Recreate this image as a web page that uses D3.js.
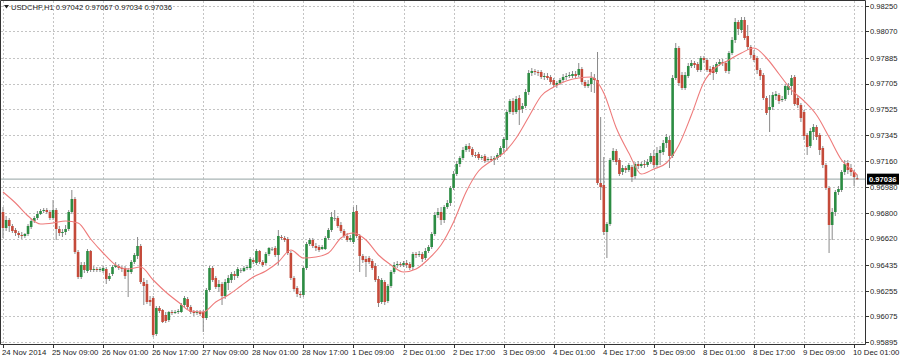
<!DOCTYPE html>
<html><head><meta charset="utf-8">
<script src="https://cdn.jsdelivr.net/npm/d3@7"></script>
<style>html,body{margin:0;padding:0;background:#fff;overflow:hidden}svg{display:block}text{font-family:"Liberation Sans",Arial,sans-serif}</style>
</head><body><svg id="c" width="900" height="359"></svg>
<script>
const symbol = "USDCHF,H1";
const timeLabelIdx = [0,16,32,48,64,80,96,112,128,144,160,176,192,208,224,240,256,272];
const timeLabels = ["24 Nov 2014","25 Nov 09:00","26 Nov 01:00","26 Nov 17:00","27 Nov 09:00","28 Nov 01:00","28 Nov 17:00","1 Dec 09:00","2 Dec 01:00","2 Dec 17:00","3 Dec 09:00","4 Dec 01:00","4 Dec 17:00","5 Dec 09:00","8 Dec 01:00","8 Dec 17:00","9 Dec 09:00","10 Dec 01:00"];
const priceTicks = [0.98250,0.98070,0.97885,0.97705,0.97525,0.97345,0.97160,0.96980,0.96800,0.96620,0.96435,0.96255,0.96075,0.95895];
const currentPrice = 0.97036;

const opens = [
.96806,.96694,.96750,.96708,.96680,.96659,.96645,.96638,.96652,.96701,.96743,.96764,.96792,.96813,.96820,.96806,.96764,.96820,.96687,.96659,
.96666,.96687,.96806,.96897,.96526,.96351,.96435,.96393,.96533,.96400,.96407,.96400,.96393,.96407,.96337,.96372,.96421,.96428,.96414,.96414,
.96386,.96386,.96456,.96498,.96568,.96316,.96302,.96190,.96204,.95952,.96134,.96120,.96085,.96050,.96106,.96099,.96106,.96106,.96155,.96197,
.96141,.96106,.96099,.96106,.96106,.96064,.96260,.96414,.96344,.96281,.96302,.96218,.96309,.96330,.96372,.96358,.96400,.96393,.96414,.96414,
.96470,.96449,.96533,.96456,.96449,.96512,.96547,.96554,.96505,.96631,.96624,.96617,.96519,.96344,.96274,.96232,.96225,.96414,.96582,.96610,
.96568,.96561,.96547,.96547,.96624,.96680,.96764,.96764,.96715,.96673,.96638,.96610,.96596,.96813,.96638,.96498,.96477,.96484,.96463,.96428,
.96337,.96176,.96316,.96183,.96288,.96386,.96435,.96442,.96435,.96449,.96442,.96421,.96512,.96505,.96512,.96484,.96533,.96561,.96652,.96785,
.96806,.96750,.96841,.96869,.96974,.97072,.97142,.97184,.97240,.97268,.97247,.97205,.97212,.97184,.97198,.97170,.97177,.97170,.97184,.97205,
.97254,.97310,.97506,.97583,.97506,.97604,.97527,.97548,.97646,.97779,.97793,.97786,.97786,.97751,.97758,.97751,.97730,.97695,.97709,.97730,
.97751,.97758,.97758,.97772,.97765,.97807,.97716,.97688,.97702,.97744,.97730,.97009,.96995,.96666,.96722,.97170,.97233,.97170,.97086,.97114,
.97100,.97121,.97058,.97142,.97128,.97142,.97135,.97156,.97198,.97135,.97219,.97226,.97289,.97310,.97198,.97744,.97954,.97765,.97674,.97758,
.97828,.97849,.97842,.97800,.97884,.97870,.97807,.97821,.97786,.97842,.97856,.97849,.97793,.97919,.98010,.98136,.98080,.98150,.98038,.97961,
.97905,.97884,.97800,.97765,.97604,.97520,.97541,.97618,.97625,.97590,.97597,.97660,.97688,.97751,.97604,.97555,.97506,.97345,.97268,.97366,
.97401,.97345,.97254,.97135,.96974,.96715,.96806,.96946,.96960,.97086,.97149,.97114,.97086,.97042];

const highs = [
.96841,.96778,.96764,.96722,.96694,.96673,.96666,.96659,.96722,.96757,.96778,.96813,.96827,.96834,.96834,.96820,.96890,.96834,.96708,.96687,
.96715,.96820,.96960,.96911,.96540,.96456,.96456,.96547,.96540,.96428,.96421,.96421,.96428,.96421,.96379,.96435,.96456,.96442,.96428,.96428,
.96414,.96470,.96519,.96631,.96582,.96344,.96330,.96218,.96218,.96148,.96148,.96127,.96106,.96113,.96120,.96120,.96127,.96169,.96218,.96211,
.96155,.96120,.96120,.96120,.96120,.96274,.96428,.96428,.96358,.96330,.96316,.96337,.96365,.96386,.96393,.96421,.96414,.96428,.96435,.96491,
.96484,.96547,.96540,.96470,.96526,.96561,.96561,.96568,.96680,.96645,.96638,.96631,.96533,.96358,.96288,.96253,.96428,.96596,.96624,.96624,
.96589,.96575,.96575,.96638,.96694,.96806,.96820,.96778,.96736,.96687,.96659,.96645,.96841,.96855,.96652,.96512,.96498,.96498,.96477,.96449,
.96358,.96344,.96330,.96302,.96400,.96456,.96463,.96456,.96463,.96470,.96456,.96526,.96526,.96533,.96526,.96554,.96575,.96666,.96806,.96834,
.96841,.96855,.96890,.96988,.97093,.97163,.97198,.97261,.97282,.97289,.97261,.97226,.97226,.97205,.97212,.97191,.97198,.97198,.97219,.97268,
.97331,.97520,.97597,.97604,.97618,.97625,.97569,.97667,.97800,.97814,.97807,.97800,.97800,.97779,.97779,.97765,.97744,.97723,.97744,.97772,
.97779,.97786,.97793,.97793,.97849,.97821,.97730,.97730,.97786,.97772,.97926,.97471,.97191,.96736,.97184,.97254,.97247,.97184,.97135,.97128,
.97149,.97135,.97156,.97163,.97156,.97170,.97177,.97219,.97240,.97261,.97268,.97310,.97352,.97338,.97765,.97989,.97968,.97786,.97786,.97849,
.97870,.97863,.97856,.97898,.97898,.97884,.97828,.97835,.97856,.97877,.97877,.97863,.97933,.98031,.98164,.98150,.98171,.98171,.98115,.97975,
.97940,.97898,.97814,.97779,.97618,.97625,.97646,.97653,.97639,.97618,.97702,.97709,.97765,.97765,.97618,.97569,.97520,.97359,.97394,.97422,
.97415,.97359,.97268,.97149,.96988,.96834,.96960,.96988,.97100,.97170,.97170,.97142,.97100,.97067];

const lows = [
.96624,.96673,.96666,.96659,.96638,.96624,.96617,.96624,.96638,.96687,.96729,.96750,.96785,.96799,.96792,.96750,.96750,.96610,.96638,.96631,
.96645,.96673,.96792,.96512,.96337,.96337,.96379,.96379,.96386,.96386,.96386,.96386,.96379,.96302,.96323,.96358,.96414,.96400,.96386,.96337,
.96211,.96372,.96442,.96477,.96302,.96155,.96162,.96148,.95931,.95938,.96099,.96029,.96029,.96036,.96085,.96092,.96092,.96099,.96141,.96127,
.96092,.96078,.96085,.96078,.95966,.96050,.96246,.96316,.96267,.96246,.96155,.96197,.96260,.96309,.96330,.96344,.96379,.96386,.96400,.96400,
.96442,.96435,.96442,.96421,.96435,.96498,.96533,.96491,.96435,.96610,.96596,.96505,.96330,.96253,.96211,.96204,.96211,.96400,.96568,.96554,
.96533,.96526,.96540,.96540,.96610,.96666,.96743,.96694,.96659,.96624,.96596,.96596,.96582,.96624,.96386,.96449,.96351,.96442,.96400,.96316,
.96141,.96162,.96155,.96169,.96274,.96372,.96414,.96421,.96421,.96414,.96400,.96400,.96484,.96491,.96456,.96470,.96519,.96547,.96638,.96764,
.96715,.96729,.96827,.96848,.96960,.97058,.97121,.97170,.97226,.97226,.97191,.97184,.97170,.97170,.97149,.97156,.97156,.97135,.97170,.97191,
.97226,.97233,.97492,.97485,.97492,.97415,.97499,.97534,.97625,.97758,.97765,.97758,.97737,.97730,.97730,.97702,.97681,.97674,.97695,.97716,
.97730,.97744,.97744,.97744,.97751,.97702,.97674,.97674,.97646,.97639,.96995,.96890,.96645,.96484,.96708,.97156,.97135,.97058,.97065,.97079,
.97086,.97016,.97037,.97107,.97114,.97114,.97121,.97142,.97114,.97121,.97135,.97205,.97254,.97114,.97184,.97730,.97688,.97660,.97660,.97744,
.97814,.97814,.97786,.97786,.97849,.97786,.97765,.97730,.97772,.97828,.97828,.97779,.97772,.97905,.97989,.98045,.98059,.98010,.97940,.97884,
.97856,.97772,.97730,.97590,.97485,.97366,.97520,.97590,.97562,.97576,.97583,.97625,.97625,.97548,.97534,.97436,.97310,.97205,.97254,.97310,
.97310,.97205,.97114,.96960,.96519,.96610,.96778,.96925,.96946,.97065,.97072,.97058,.96988,.97034];

const closes = [
.96694,.96750,.96708,.96673,.96659,.96645,.96638,.96652,.96708,.96743,.96764,.96792,.96813,.96820,.96806,.96764,.96820,.96687,.96659,.96666,
.96687,.96806,.96897,.96526,.96351,.96435,.96400,.96533,.96400,.96407,.96400,.96407,.96414,.96337,.96358,.96421,.96435,.96414,.96407,.96358,
.96400,.96456,.96505,.96568,.96316,.96288,.96176,.96176,.95945,.96134,.96113,.96036,.96043,.96106,.96099,.96106,.96113,.96155,.96204,.96141,
.96106,.96099,.96106,.96092,.96064,.96260,.96414,.96330,.96281,.96302,.96218,.96316,.96344,.96372,.96358,.96407,.96400,.96414,.96421,.96477,
.96456,.96533,.96456,.96435,.96512,.96554,.96547,.96505,.96638,.96624,.96610,.96519,.96344,.96267,.96232,.96225,.96414,.96582,.96610,.96568,
.96554,.96540,.96561,.96624,.96680,.96771,.96764,.96708,.96673,.96638,.96610,.96624,.96806,.96638,.96498,.96470,.96456,.96456,.96414,.96330,
.96169,.96330,.96176,.96288,.96386,.96435,.96442,.96435,.96449,.96435,.96414,.96512,.96505,.96512,.96477,.96533,.96561,.96652,.96785,.96806,
.96750,.96841,.96869,.96974,.97072,.97142,.97184,.97240,.97268,.97247,.97205,.97198,.97184,.97191,.97163,.97177,.97170,.97184,.97205,.97254,
.97317,.97506,.97583,.97506,.97597,.97520,.97548,.97646,.97779,.97793,.97786,.97779,.97751,.97758,.97744,.97716,.97695,.97709,.97730,.97751,
.97758,.97765,.97772,.97758,.97807,.97716,.97688,.97702,.97744,.97730,.97009,.96981,.96666,.96722,.97170,.97233,.97156,.97072,.97114,.97100,
.97135,.97051,.97142,.97128,.97142,.97135,.97156,.97198,.97135,.97219,.97240,.97289,.97331,.97198,.97744,.97954,.97709,.97674,.97765,.97828,
.97849,.97835,.97800,.97884,.97870,.97800,.97786,.97779,.97842,.97856,.97849,.97793,.97919,.98010,.98136,.98087,.98150,.98024,.97961,.97905,
.97870,.97800,.97758,.97604,.97499,.97541,.97625,.97632,.97583,.97597,.97688,.97688,.97744,.97562,.97555,.97464,.97338,.97261,.97373,.97401,
.97331,.97240,.97135,.96974,.96715,.96806,.96946,.96967,.97086,.97142,.97100,.97086,.97051,.97036];

const maIdx = [0,4,8,12,16,20,24,28,32,36,40,44,48,52,56,60,64,68,72,76,80,84,88,92,96,100,104,108,112,116,120,124,128,132,136,140,144,148,152,156,160,164,168,172,176,180,184,188,192,196,200,204,208,212,216,220,224,228,232,236,240,244,248,252,256,260,264,268,272,273];
const maVals = [.96946,.96869,.96778,.96722,.96729,.96743,.96729,.96617,.96519,.96435,.96407,.96421,.96330,.96246,.96176,.96113,.96106,.96176,.96225,.96288,
.96351,.96393,.96456,.96540,.96484,.96491,.96519,.96624,.96659,.96610,.96505,.96435,.96386,.96407,.96477,.96575,.96736,.96946,.97093,.97163,
.97219,.97324,.97471,.97618,.97681,.97723,.97744,.97751,.97639,.97394,.97219,.97072,.97107,.97149,.97275,.97485,.97716,.97821,.97870,.97919,
.97954,.97884,.97772,.97660,.97583,.97485,.97331,.97170,.97086,.97065];

const svg = d3.select("#c");
const plotR = 865, plotB = 344;
const x = d3.scaleLinear().domain([0, 272]).range([3, 854.1]);
const y = d3.scaleLinear().domain([0.95889, 0.98290]).range([343, 0]);
const n = closes.length;
const bars = d3.range(n).map(i => ({i, o: opens[i], h: highs[i], l: lows[i], c: closes[i]}));

// grid
const grid = svg.append("g").attr("stroke", "#c4c4c4").attr("stroke-dasharray", "2,2").attr("stroke-width", 1);
grid.selectAll("line.h").data(priceTicks).join("line").attr("class","h")
  .attr("x1", 1).attr("x2", plotR).attr("y1", d => Math.round(y(d)) + 0.5).attr("y2", d => Math.round(y(d)) + 0.5);
grid.selectAll("line.v").data(timeLabelIdx).join("line").attr("class","v")
  .attr("x1", d => Math.round(x(d)) + 0.5).attr("x2", d => Math.round(x(d)) + 0.5).attr("y1", 1).attr("y2", plotB);

// current price line
svg.append("line").attr("x1", 1).attr("x2", plotR).attr("y1", y(currentPrice)).attr("y2", y(currentPrice))
  .attr("stroke", "#a9b5b5").attr("stroke-width", 1.3);

// candles
const cg = svg.append("g");
cg.selectAll("line.w").data(bars).join("line").attr("class","w")
  .attr("x1", d => x(d.i)).attr("x2", d => x(d.i)).attr("y1", d => y(d.h)).attr("y2", d => y(d.l))
  .attr("stroke", "#8a8a8a").attr("stroke-width", 1);
const bw = 2.6;
cg.selectAll("rect.b").data(bars).join("rect").attr("class","b")
  .attr("x", d => x(d.i) - bw/2).attr("width", bw)
  .attr("y", d => y(Math.max(d.o, d.c)))
  .attr("height", d => Math.max(1, Math.abs(y(d.o) - y(d.c))))
  .attr("fill", d => d.c > d.o ? "#2c8c43" : (d.c < d.o ? "#c44a3a" : "#8a8a8a"));

// moving average
const maData = maIdx.map((k, j) => ({i: k, v: maVals[j]}));
svg.append("path").datum(maData)
  .attr("d", d3.line().x(d => x(d.i)).y(d => y(d.v)).curve(d3.curveMonotoneX))
  .attr("fill", "none").attr("stroke", "#ee7b7b").attr("stroke-width", 1.1);

// frame
svg.append("path").attr("d", `M0.5,${plotB+0.5}V0.5H${plotR+0.5}V${plotB+0.5}H0.5`)
  .attr("fill", "none").attr("stroke", "#333").attr("stroke-width", 1);

// price axis
const pa = svg.append("g");
pa.selectAll("line").data(priceTicks).join("line")
  .attr("x1", plotR + 1).attr("x2", plotR + 4).attr("y1", d => Math.round(y(d)) + 0.5).attr("y2", d => Math.round(y(d)) + 0.5)
  .attr("stroke", "#333");
pa.selectAll("text").data(priceTicks).join("text")
  .attr("x", plotR + 5).attr("y", d => y(d) + 2.8).attr("font-size", "7.6px").attr("fill", "#222")
  .text(d => d.toFixed(5));

// current price box
svg.append("rect").attr("x", plotR + 2).attr("y", y(currentPrice) - 5.5).attr("width", 32).attr("height", 11).attr("fill", "#000");
svg.append("text").attr("x", plotR + 4).attr("y", y(currentPrice) + 2.8).attr("font-size", "7.6px").attr("fill", "#fff")
  .attr("font-weight", "bold").text(currentPrice.toFixed(5));

// time axis
const ta = svg.append("g");
ta.selectAll("line").data(timeLabelIdx).join("line")
  .attr("x1", d => Math.round(x(d)) + 0.5).attr("x2", d => Math.round(x(d)) + 0.5).attr("y1", plotB).attr("y2", plotB + 4)
  .attr("stroke", "#333");
ta.selectAll("text").data(timeLabelIdx).join("text")
  .attr("x", d => Math.round(x(d)) - 1).attr("y", 355).attr("font-size", "7.8px").attr("fill", "#222")
  .text((d, j) => timeLabels[j]);

// title
svg.append("path").attr("d", "M4,5H9L6.5,8.5Z").attr("fill", "#222");
const last = bars[n - 1];
svg.append("text").attr("x", 11).attr("y", 10).attr("font-size", "7.6px").attr("fill", "#222")
  .text(`${symbol}  ${last.o.toFixed(5)} ${last.h.toFixed(5)} ${last.l.toFixed(5)} ${last.c.toFixed(5)}`);
</script></body></html>
